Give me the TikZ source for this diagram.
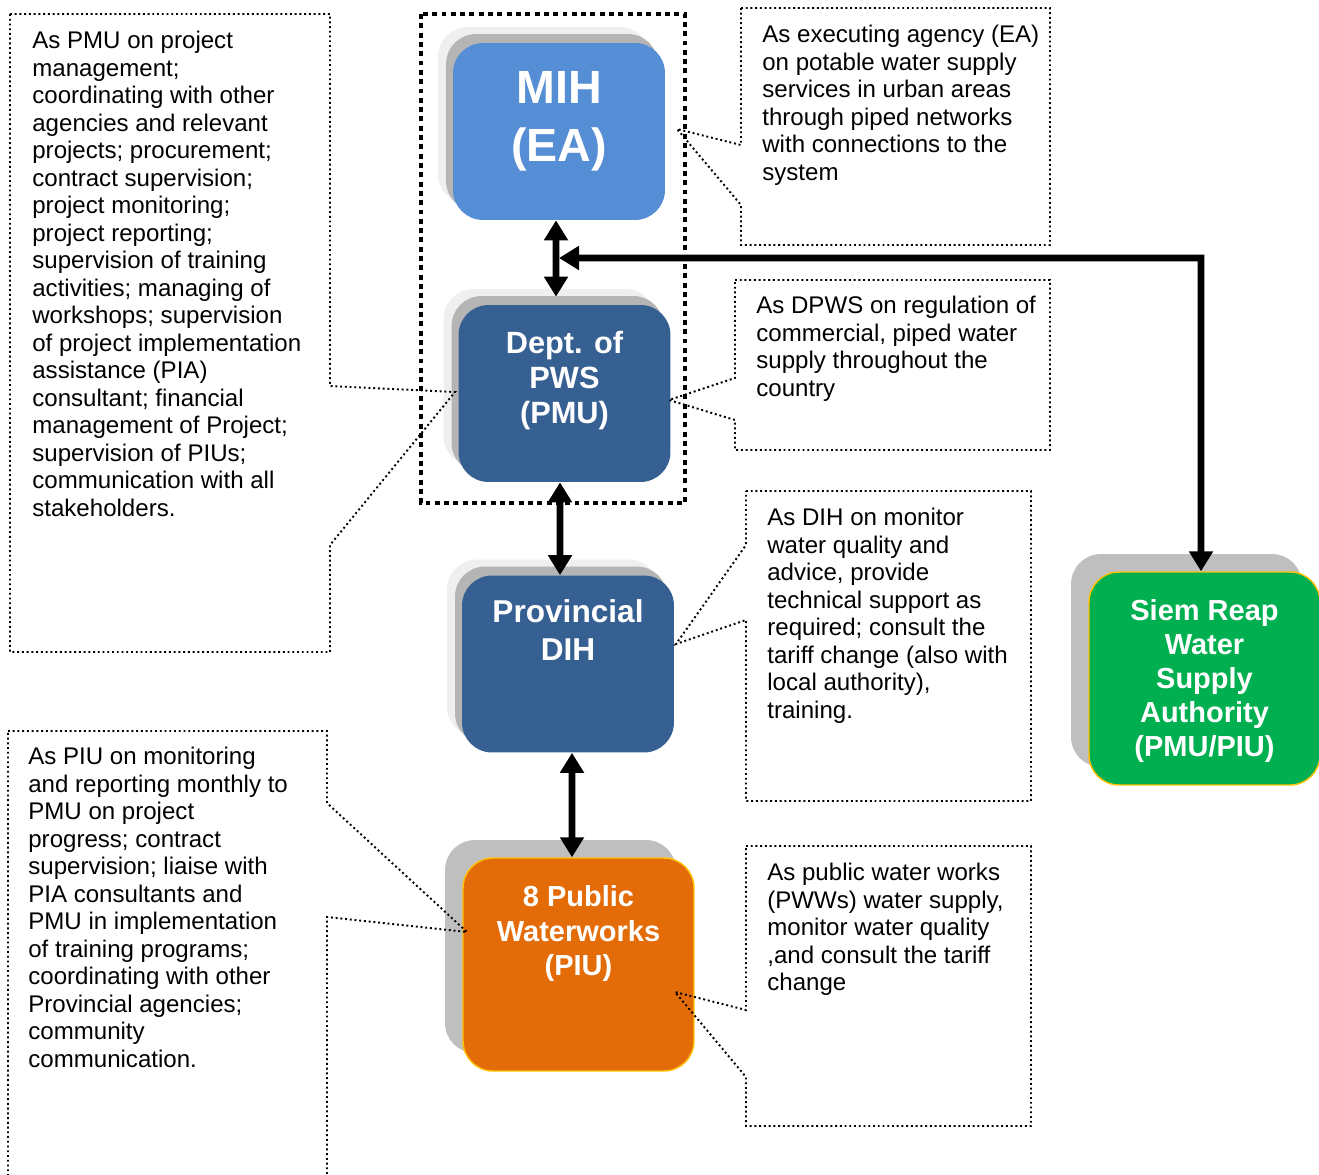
\documentclass[tikz,border=0pt]{standalone}
\usepackage{fontspec}
\setmainfont{Liberation Sans}
\usetikzlibrary{arrows.meta, positioning, shadows, calc}

\definecolor{EABlue}{HTML}{558ED5}
\definecolor{DeptBlue}{HTML}{376092}
\definecolor{PWWOrange}{HTML}{E36C09}
\definecolor{SRGreen}{HTML}{00B050}
\definecolor{EdgeGold}{HTML}{FFC000}
\definecolor{ShadeGray}{HTML}{B5B5B5}
\definecolor{ShadeLight}{HTML}{EFEFEF}
\definecolor{ShadeMid}{HTML}{BFBFBF}

\tikzset{
  orgbox/.style={rectangle, rounded corners=0.6cm, minimum width=4.24cm, minimum height=3.54cm, inner sep=0pt},
  bluebox/.style={orgbox, fill=#1, general shadow={fill=ShadeLight, shadow xshift=-0.30cm, shadow yshift=0.32cm}, general shadow={fill=ShadeGray, shadow xshift=-0.14cm, shadow yshift=0.18cm}},
  goldbox/.style={orgbox, fill=#1, draw=EdgeGold, line width=0.8pt, minimum width=4.62cm, minimum height=4.26cm, general shadow={fill=ShadeMid, shadow xshift=-0.36cm, shadow yshift=0.36cm}},
  boxtitle/.style={text=white, font=\bfseries\fontsize{17.5}{20}\selectfont, align=center, inner sep=0pt},
  notetext/.style={font=\fontsize{13.7}{15.65}\selectfont, align=left, inner sep=0pt, anchor=north west},
  callout/.style={line width=1.1pt, dash pattern=on 1.1pt off 1.6pt},
  groupframe/.style={line width=2.8pt, dash pattern=on 2.8pt off 2.5pt},
  biarrow/.style={{Triangle[length=0.4cm,width=0.46cm]}-{Triangle[length=0.4cm,width=0.46cm]}, line width=3.8pt}
}

\begin{document}
\begin{tikzpicture}[x=0.02cm, y=-0.02cm]
  \clip (0,0) rectangle (1319,1174);

  % frame round EA and PMU
  \draw[groupframe] (421,14) rectangle (685,503);

  % agencies
  \node[bluebox=EABlue] (mih) at (559,131.5) {};
  \node[bluebox=DeptBlue] (pws) at (564.5,393.5) {};
  \node[bluebox=DeptBlue] (dih) at (568,664) {};
  \node[goldbox=PWWOrange] (pww) at (578.5,964.5) {};
  \node[goldbox=SRGreen] (srwsa) at (1204.5,678.5) {};

  \node[boxtitle, font=\bfseries\fontsize{26.5}{33}\selectfont, below=0.56cm of mih.north] (mihtitle) {MIH\\(EA)};
  \node[boxtitle, below=0.52cm of pws.north] (pwstitle) {Dept. of\\PWS\\(PMU)};
  \node[boxtitle, font=\bfseries\fontsize{18}{21.5}\selectfont, below=0.48cm of dih.north] (dihtitle) {Provincial\\DIH};
  \node[boxtitle, font=\bfseries\fontsize{16.5}{19.6}\selectfont, below=0.56cm of pww.north] (pwwtitle) {8 Public\\Waterworks\\(PIU)};
  \node[boxtitle, font=\bfseries\fontsize{16.5}{19.3}\selectfont, below=0.56cm of srwsa.north] (srwsatitle) {Siem Reap\\Water\\Supply\\Authority\\(PMU/PIU)};

  % links
  \draw[biarrow] ([xshift=-0.06cm]mih.south) -- ([xshift=-0.17cm, yshift=0.16cm]pws.north);
  \draw[biarrow] ([xshift=-0.09cm]pws.south) -- ([xshift=-0.16cm]dih.north);
  \draw[biarrow] ([xshift=0.08cm]dih.south) -- ([xshift=-0.13cm]pww.north);
  \coordinate (eajoin) at (559,258);
  \coordinate (srbend) at (1201,258);
  \draw[biarrow] (eajoin) -- (srbend) -- ([xshift=-0.07cm]srwsa.north);

  % callouts
  \draw[callout] (10,14) -- (330,14) -- (330,386) -- (455,392) -- (330,545) -- (330,652) -- (10,652) -- cycle;
  \draw[callout] (741,8) -- (1050,8) -- (1050,245) -- (741,245) -- (741,205) -- (677,129) -- (741,145) -- cycle;
  \draw[callout] (735,280) -- (1050,280) -- (1050,450) -- (735,450) -- (735,420) -- (669,400) -- (735,378) -- cycle;
  \draw[callout] (746,491) -- (1031,491) -- (1031,801) -- (746,801) -- (746,620) -- (676,644) -- (746,545) -- cycle;
  \draw[callout] (746,846) -- (1031,846) -- (1031,1126) -- (746,1126) -- (746,1077) -- (675,992) -- (746,1010) -- cycle;
  \draw[callout] (8,731) -- (327,731) -- (327,803) -- (467,932) -- (327,917) -- (327,1190) -- (8,1190) -- cycle;

  \node[notetext] (pmunote) at (32,31) {As PMU on project\\management;\\coordinating with other\\agencies and relevant\\projects; procurement;\\contract supervision;\\project monitoring;\\project reporting;\\supervision of training\\activities; managing of\\workshops; supervision\\of project implementation\\assistance (PIA)\\consultant; financial\\management of Project;\\supervision of PIUs;\\communication with all\\stakeholders.};
  \node[notetext] (eanote) at (762,25) {As executing agency (EA)\\on potable water supply\\services in urban areas\\through piped networks\\with connections to the\\system};
  \node[notetext] (dpwsnote) at (756,296) {As DPWS on regulation of\\commercial, piped water\\supply throughout the\\country};
  \node[notetext] (dihnote) at (767,508) {As DIH on monitor\\water quality and\\advice, provide\\technical support as\\required; consult the\\tariff change (also with\\local authority),\\training.};
  \node[notetext] (pwwnote) at (767,863) {As public water works\\(PWWs) water supply,\\monitor water quality\\,and consult the tariff\\change};
  \node[notetext] (piunote) at (28,747) {As PIU on monitoring\\and reporting monthly to\\PMU on project\\progress; contract\\supervision; liaise with\\PIA consultants and\\PMU in implementation\\of training programs;\\coordinating with other\\Provincial agencies;\\community\\communication.};
\end{tikzpicture}
\end{document}
